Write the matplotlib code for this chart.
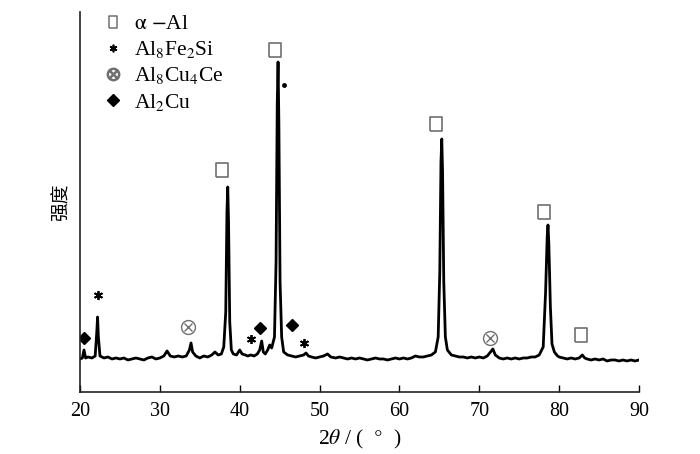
"""XRD pattern (2theta vs intensity) with phase markers."""

import matplotlib
matplotlib.use('Agg')
import matplotlib.pyplot as plt
from matplotlib.lines import Line2D

plt.rcParams['font.family'] = ['Liberation Serif', 'Noto Sans CJK SC', 'DejaVu Sans']
plt.rcParams['mathtext.fontset'] = 'stix'

# Pattern (arbitrary intensity units)
two_theta = [
    20.0, 20.3, 20.5, 20.7, 21.0, 21.5, 21.9, 22.1, 22.2, 22.3, 22.5, 23.0, 23.5, 24.0,
    24.5, 25.0, 25.5, 26.0, 26.5, 27.0, 27.5, 28.0, 28.5, 29.0, 29.5, 30.0, 30.5, 30.9,
    31.3, 31.8, 32.3, 32.8, 33.3, 33.7, 33.9, 34.1, 34.5, 35.0, 35.5, 36.0, 36.5, 36.9,
    37.3, 37.7, 38.0, 38.25, 38.4, 38.5, 38.6, 38.75, 38.95, 39.2, 39.6, 40.0, 40.3, 40.7,
    41.0, 41.4, 41.8, 42.2, 42.5, 42.75, 42.95, 43.2, 43.5, 43.75, 44.0, 44.35, 44.55, 44.7,
    44.8, 44.9, 45.05, 45.25, 45.5, 46.0, 46.5, 47.0, 47.5, 48.0, 48.3, 48.6, 49.0, 49.5,
    50.0, 50.5, 51.0, 51.4, 52.0, 52.5, 53.0, 53.5, 54.0, 54.5, 55.0, 55.5, 56.0, 56.5,
    57.0, 57.5, 58.0, 58.5, 59.0, 59.5, 60.0, 60.5, 61.0, 61.5, 62.0, 62.5, 63.0, 63.5,
    64.0, 64.5, 64.85, 65.05, 65.2, 65.3, 65.4, 65.55, 65.75, 66.0, 66.5, 67.0, 67.5, 68.0,
    68.5, 69.0, 69.5, 70.0, 70.5, 71.0, 71.4, 71.7, 72.0, 72.5, 73.0, 73.5, 74.0, 74.5,
    75.0, 75.5, 76.0, 76.5, 77.0, 77.5, 78.0, 78.3, 78.5, 78.6, 78.7, 78.9, 79.1, 79.4,
    79.8, 80.0, 80.5, 81.0, 81.5, 82.0, 82.5, 82.9, 83.2, 83.5, 84.0, 84.5, 85.0, 85.5,
    86.0, 86.5, 87.0, 87.5, 88.0, 88.5, 89.0, 89.5, 90.0,
]
intensity = [
    33, 34, 42, 34, 35, 34, 36, 60, 75, 55, 36, 34, 35, 33,
    34, 33, 34, 32, 33, 34, 33, 32, 34, 35, 33, 34, 36, 41,
    36, 35, 36, 35, 36, 42, 49, 40, 36, 34, 36, 35, 37, 40,
    37, 38, 45, 80, 180, 205, 170, 70, 42, 38, 37, 42, 38, 37,
    36, 37, 36, 38, 42, 51, 40, 38, 42, 47, 44, 55, 130, 290,
    330, 270, 110, 55, 40, 37, 36, 35, 36, 37, 39, 36, 35, 34,
    35, 36, 38, 35, 34, 35, 34, 33, 34, 33, 34, 33, 32, 33,
    34, 33, 33, 32, 33, 34, 33, 34, 33, 34, 36, 35, 35, 36,
    37, 40, 55, 120, 230, 253, 220, 110, 55, 42, 37, 36, 35, 35,
    34, 35, 34, 35, 34, 36, 40, 43, 37, 34, 33, 34, 33, 34,
    33, 34, 34, 35, 35, 37, 45, 100, 155, 167, 150, 85, 48, 40,
    36, 35, 34, 33, 34, 33, 34, 37, 34, 33, 32, 33, 32, 33,
    31, 32, 32, 31, 32, 31, 32, 31, 32,
]

# Phase marks above the peaks
al_x = [37.8, 44.4, 64.6, 78.1, 82.7]
al_y = [222, 342, 268, 180, 57]
fesi_x = [22.2, 41.4, 48.0]
fesi_y = [97, 53, 49]
cuce_x = [33.5, 71.3]
cuce_y = [65, 54]
al2cu_x = [20.5, 42.6, 46.5]
al2cu_y = [54, 64, 67]
dot_x = [45.5]
dot_y = [307]

legend_labels = [r'$\mathrm{\alpha}$ $-$Al', r'Al$_8$Fe$_2$Si', r'Al$_8$Cu$_4$Ce', r'Al$_2$Cu']

RECT = [(-0.4, -0.5), (0.4, -0.5), (0.4, 0.5), (-0.4, 0.5), (-0.4, -0.5)]
RECT_SMALL = [(-0.34, -0.5), (0.34, -0.5), (0.34, 0.5), (-0.34, 0.5), (-0.34, -0.5)]
GREY = '#707070'

fig = plt.figure(figsize=(7.0, 4.54), dpi=100)
ax = fig.add_axes([0.1143, 0.1366, 0.7986, 0.837])

ax.plot(two_theta, intensity, color='black', linewidth=2.0)

ax.plot(al_x, al_y, linestyle='none', marker=RECT, markersize=10,
        markerfacecolor='none', markeredgecolor=GREY, markeredgewidth=1.2)
ax.plot(fesi_x, fesi_y, linestyle='none', marker=(6, 2, 0), markersize=6.5,
        color='black', markeredgewidth=1.3)
ax.plot(cuce_x, cuce_y, linestyle='none', marker='o', markersize=10,
        markerfacecolor='none', markeredgecolor=GREY, markeredgewidth=1.0)
ax.plot(cuce_x, cuce_y, linestyle='none', marker='x', markersize=6,
        color=GREY, markeredgewidth=1.0)
ax.plot(al2cu_x, al2cu_y, linestyle='none', marker='D', markersize=6.5, color='black')
ax.plot(dot_x, dot_y, linestyle='none', marker='o', markersize=2.5, color='black')

handles = [
    Line2D([], [], linestyle='none', marker=RECT_SMALL, markersize=9,
           markerfacecolor='none', markeredgecolor=GREY, markeredgewidth=1.1),
    Line2D([], [], linestyle='none', marker=(6, 2, 0), markersize=5.5,
           color='black', markeredgewidth=1.2),
    Line2D([], [], linestyle='none', marker='$\\otimes$', markersize=9, color=GREY),
    Line2D([], [], linestyle='none', marker='D', markersize=6, color='black'),
]
ax.legend(handles, legend_labels, loc='upper left', bbox_to_anchor=(0.009, 1.04),
          frameon=False, fontsize=15.5, handlelength=1.0, handletextpad=0.49,
          labelspacing=0.24, borderaxespad=0.4)

ax.set_xlim(20, 90)
ax.set_ylim(0, 380)
ax.set_xticks(range(20, 91, 10))
ax.set_yticks([])
ax.tick_params(axis='x', direction='in', length=5, width=1.0, labelsize=14.5, pad=7)
for side in ['top', 'right']:
    ax.spines[side].set_visible(False)
for side in ['left', 'bottom']:
    ax.spines[side].set_linewidth(1.2)
    ax.spines[side].set_color('#222222')

ax.set_xlabel(r'2$\mathit{\theta}$ / (  $\degree$  )', fontsize=15.5, labelpad=5)
ax.set_ylabel('强度', fontsize=13.5, family=['Noto Sans CJK SC'], labelpad=6)

fig.savefig('out.png', dpi=100)
